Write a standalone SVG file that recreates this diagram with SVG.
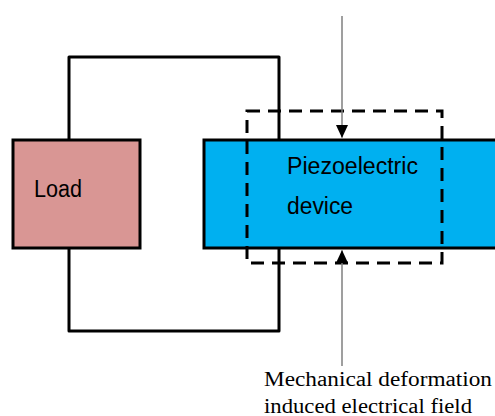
<svg xmlns="http://www.w3.org/2000/svg" width="495" height="416" viewBox="0 0 495 416">
<style>
.wire{fill:none;stroke:#000;stroke-width:3;stroke-linejoin:round}
.box{stroke:#000;stroke-width:3}
.dash{fill:none;stroke:#000;stroke-width:3;stroke-dasharray:13 8}
.arr{stroke:#7f7f7f;stroke-width:1.5;fill:none}
.lbl{font-family:"Liberation Sans",Arial,sans-serif;font-size:23px;fill:#000}
.cap{font-family:"Liberation Serif","Times New Roman",serif;font-size:20px;fill:#000}
</style>
<defs>
<marker id="ah" markerWidth="12" markerHeight="14" refX="13" refY="6" orient="auto" markerUnits="userSpaceOnUse"><path d="M0,0 L13,6 L0,12 z" fill="#000"/></marker>
</defs>
<rect width="495" height="416" fill="#fff"/>
<g id="connectors">
<path class="wire" d="M69,140 V57 H279 V140"/>
<path class="wire" d="M69,248 V331 H279 V248"/>
</g>
<g id="load">
<rect class="box" x="13" y="140" width="127" height="108" fill="#d99694"/>
<text class="lbl" x="34" y="197" textLength="48" lengthAdjust="spacingAndGlyphs">Load</text>
</g>
<g id="piezo">
<rect class="box" x="204" y="140" width="300" height="108" fill="#00b0f0"/>
<text class="lbl" x="287" y="174" textLength="131" lengthAdjust="spacingAndGlyphs">Piezoelectric</text>
<text class="lbl" x="287" y="214" textLength="66" lengthAdjust="spacingAndGlyphs">device</text>
</g>
<g id="field">
<rect class="dash" x="247" y="111" width="195" height="152"/>
</g>
<g id="arrows">
<line class="arr" x1="342" y1="16" x2="342" y2="138" marker-end="url(#ah)"/>
<line class="arr" x1="342" y1="366" x2="342" y2="250" marker-end="url(#ah)"/>
</g>
<g id="caption">
<text class="cap" x="264" y="386" textLength="228" lengthAdjust="spacingAndGlyphs">Mechanical deformation</text>
<text class="cap" x="264" y="413" textLength="208" lengthAdjust="spacingAndGlyphs">induced electrical field</text>
</g>
</svg>
